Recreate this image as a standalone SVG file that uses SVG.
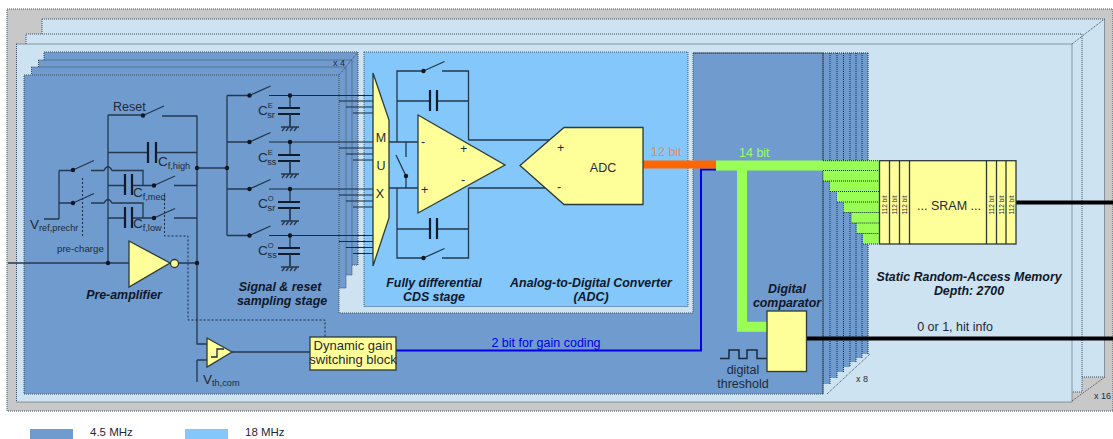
<svg xmlns="http://www.w3.org/2000/svg" width="1113" height="439" viewBox="0 0 1113 439">
<defs>
<style>
text{font-family:"Liberation Sans",Arial,sans-serif;fill:#1f2a38;font-size:12.5px}
.b{font-weight:bold;font-style:italic;text-anchor:middle;font-size:12.400px;fill:#10182a}
.m{text-anchor:middle}
.sub{font-size:9.200px}
.sup{font-size:7.500px}
.c{font-size:13.500px}
.d{stroke:#3d4c5e;stroke-width:1;stroke-dasharray:1 1}
.pale{fill:#cde3f2}
.mid{fill:#6f9bce}
.w{fill:none;stroke:#24384d;stroke-width:1.300}
.p{fill:none;stroke:#101c2c;stroke-width:2.200}
.y{fill:#ffff99;stroke:#2c3a3a;stroke-width:1.300}
.dot{fill:#0d1725}
.tiny{font-size:6.500px}
.wire{fill:none;stroke:#1a2a3c;stroke-width:1}
.dash{fill:none;stroke:#1a2a3c;stroke-width:1;stroke-dasharray:2 2}
.edge{fill:none;stroke:#16263a;stroke-width:1;stroke-dasharray:1 1}
</style>
<g id="gnd"><path class="w" d="M0 0V13M-9 13H9M-8 17L-5 13M-4 17L-1 13M0 17L3 13M4 17L7 13"/></g>
<path id="blade" class="w" d="M0 0L21 -9.500"/>
</defs>

<g id="frames">
<rect x="7" y="9" width="1106" height="402" fill="#c8c8c8" class="d"/>
<path class="pale d" d="M42 19H1104.500V377H1060V100H42Z"/>
<path class="pale d" d="M26 34H1082V392H1060V100H26Z"/>
<rect class="pale d" x="16.500" y="44" width="1055.500" height="358"/>
<path class="d" fill="none" d="M1072 44L1104.500 19M1072 401L1105 377"/>
</g>

<g id="stack-x4">
<rect class="mid d" x="44" y="52" width="314" height="213"/>
<rect class="mid d" x="38.500" y="60" width="313.500" height="215"/>
<rect class="mid d" x="31.500" y="67" width="314.500" height="221"/>
<path class="d" fill="none" d="M339 75L358 52"/>
</g>
<g id="stack-x8">
<rect class="mid" x="693" y="53" width="175" height="301"/>
<rect class="mid" x="693" y="53" width="169" height="305"/>
<rect class="mid" x="693" y="53" width="163" height="309"/>
<rect class="mid" x="693" y="53" width="157" height="314"/>
<rect class="mid" x="693" y="53" width="150.500" height="319"/>
<rect class="mid" x="693" y="53" width="144" height="325"/>
<rect class="mid" x="693" y="53" width="137" height="331"/>
<path class="d" fill="none" d="M827 394L870 354"/>
</g>
<path id="main-block" class="mid d" d="M24 75H339V313H693V53H823V394H24Z"/>
<rect id="adc-block" x="364" y="52" width="324" height="254.500" fill="#83c7fb" stroke="#3a5570" stroke-width="1" stroke-dasharray="1 1"/>

<g id="connectors">
<path class="w" d="M108 115H143M162 116H197V263M108 115V263M108 152.500H148M156 152.500H197"/>
<path class="w" d="M197 168H227M227 95.500V235.500M227 95.500H249.500M227 142H249.500M227 189H249.500M227 235.500H249.500"/>
<path class="w" d="M59 170.500V219M44 219H59M59 170.500H73M59 203H73M91 170.500H104Q108 163 112 170.500H143V185.500M91 203H104Q108 196 112 203H143V218M108 185.500H125M132 185.500H154M108 218H125M132 218H154M174 185.500H197M174 218H197"/>
<path class="w" d="M8 263H129M179 263H197V344H207M197 360H207M197 360V382M232 352H310"/>
<path class="dash" d="M82.500 178V238M164.500 195V236H188V320H325V337"/>
<path class="wire" d="M269 95.500H373M339 101H373M346 107H373M353 113H373M269 142H373M339 148H373M346 154H373M353 160H373M269 189H373M339 195H373M346 201H373M353 207H373M269 235.500H373M339 241.500H373M346 247.500H373M353 253.500H373"/>
<path class="w" d="M290 95.500V108M290 114V127M290 142V155M290 161V174M290 189V202M290 208V220M290 235.500V248M290 254V266"/>
<path class="w" d="M389 142H418M389 188H418M397 142V71H423.500M442 71H468.500V140M397 101H430M437 101H468.500M397 188V258H423.500M442 258H468.500V188M397 229H430M437 229H468.500M406 142V157M406 176V188M406 176L396 155"/>
<path class="w" d="M468.500 140H549M468.500 188H549"/>
<path class="edge" d="M823 53V394M830 53V384M837 53V378M843.500 53V372M850 53V367M856 53V362M862 53V358M868 53V354M693 53H868"/>
<path fill="none" stroke="#0000e6" stroke-width="2" d="M716 169.500H701V350.500H396"/>
<path fill="none" stroke="#ff6600" stroke-width="8" d="M643 164.500H716"/>
<path fill="none" stroke="#99ff55" stroke-width="10" d="M716 165.500H879M742 170V326.700H767"/>
<path fill="#99ff55" d="M823.300 170.500H879V181H823.300ZM830 181H879V191.500H830ZM837 191.500H879V202H837ZM843.700 202H879V212.500H843.700ZM851.700 212.500H879V223H851.700ZM856.700 223H879V233.500H856.700ZM863 233.500H879V244H863Z"/>
<path class="edge" d="M823 160.700H879M823 170.500H879M823 181H879M830 191.500H879M837 202H879M843.700 212.500H879M851.700 223H879M856.700 233.500H879M863 244H879"/>
<path fill="none" stroke="#000" stroke-width="4" d="M1016 202.500H1113M807 338.500H1113"/>
<path fill="none" stroke="#1a2a3c" stroke-width="1.500" d="M720 358.500H729V350H739V358.500H747V350H757V358.500H767"/>
</g>

<g id="components">
<g id="sw-reset"><use href="#blade" x="143" y="115.500"/><circle class="dot" cx="143" cy="115.500" r="2.200"/></g>
<g id="sw-pre"><use href="#blade" x="73" y="170"/><circle class="dot" cx="73" cy="170" r="2.200"/><use href="#blade" x="73" y="203"/><circle class="dot" cx="73" cy="203" r="2.200"/></g>
<g id="sw-gain"><use href="#blade" x="154" y="185.500"/><circle class="dot" cx="154" cy="185.500" r="2.200"/><use href="#blade" x="154" y="218"/><circle class="dot" cx="154" cy="218" r="2.200"/></g>
<g id="feedback-caps"><path class="p" d="M148 142V163M156 142V163M125 174V195M132 174V195M125 207V228M132 207V228"/></g>
<g id="junctions"><circle class="dot" cx="197" cy="168" r="2.200"/><circle class="dot" cx="227" cy="168" r="2.200"/><circle class="dot" cx="108" cy="263" r="2.200"/><circle class="dot" cx="197" cy="263" r="2.200"/></g>
<g id="preamp"><polygon class="y" points="129,241 170,263 129,287"/><circle class="y" cx="174.500" cy="263.500" r="4"/></g>
<g id="sampling">
<use href="#blade" x="249.500" y="95.500"/><circle class="dot" cx="249.500" cy="95.500" r="2.200"/><circle class="dot" cx="290" cy="95.500" r="2.200"/>
<use href="#blade" x="249.500" y="142"/><circle class="dot" cx="249.500" cy="142" r="2.200"/><circle class="dot" cx="290" cy="142" r="2.200"/>
<use href="#blade" x="249.500" y="189"/><circle class="dot" cx="249.500" cy="189" r="2.200"/><circle class="dot" cx="290" cy="189" r="2.200"/>
<use href="#blade" x="249.500" y="235.500"/><circle class="dot" cx="249.500" cy="235.500" r="2.200"/><circle class="dot" cx="290" cy="235.500" r="2.200"/>
<path class="p" d="M278 108H300M278 114H300M278 155H300M278 161H300M278 202H300M278 208H300M278 248H300M278 254H300"/>
<use href="#gnd" x="290" y="114"/><use href="#gnd" x="290" y="161"/><use href="#gnd" x="290" y="208"/><use href="#gnd" x="290" y="254"/>
</g>
<g id="mux"><polygon class="y" points="373,73 389,120 389,218 373,266"/><text class="m" x="381" y="142">M</text><text class="m" x="381" y="170">U</text><text class="m" x="380" y="198">X</text></g>
<g id="cds">
<use href="#blade" x="423.500" y="71"/><circle class="dot" cx="423.500" cy="71" r="2.200"/>
<use href="#blade" x="423.500" y="258"/><circle class="dot" cx="423.500" cy="258" r="2.200"/>
<circle class="dot" cx="406" cy="176" r="2.200"/>
<path class="p" d="M430 90V111M437 90V111M430 218V239M437 218V239"/>
<polygon class="y" points="418,115 505,165 418,213"/>
<text x="421" y="146">-</text><text x="421" y="194">+</text><text x="460" y="153">+</text><text x="461" y="184">-</text>
</g>
<g id="adc"><polygon class="y" points="520,165.500 564,127.500 643,127.500 643,204.500 564,204.500"/><text x="557" y="152">+</text><text x="557" y="191">-</text><text class="m" x="603" y="172">ADC</text></g>
<g id="gain-comparator"><polygon class="y" points="207,338 232,352 207,367"/><path fill="none" stroke="#1a2a3c" stroke-width="1.300" d="M211 357H217V349H224"/></g>
<g id="gain-block"><rect class="y" x="310" y="337" width="86" height="33"/><text class="m" x="353" y="350" style="font-size:13px">Dynamic gain</text><text class="m" x="353" y="364" style="font-size:13px">switching block</text></g>
<g id="comparator"><rect class="y" x="767" y="311" width="39.500" height="60.500"/></g>
<g id="sram">
<rect class="y" x="879.500" y="160.700" width="136.500" height="83.300"/>
<path fill="none" stroke="#2c3a3a" stroke-width="1.300" d="M889.500 160.700V244M899.500 160.700V244M909.500 160.700V244M986.500 160.700V244M996.500 160.700V244M1006 160.700V244"/>
<text class="tiny m" transform="translate(887,205) rotate(-90)">112 bit</text>
<text class="tiny m" transform="translate(897,205) rotate(-90)">112 bit</text>
<text class="tiny m" transform="translate(907,205) rotate(-90)">112 bit</text>
<text class="tiny m" transform="translate(994,205) rotate(-90)">112 bit</text>
<text class="tiny m" transform="translate(1004,205) rotate(-90)">112 bit</text>
<text class="tiny m" transform="translate(1013.500,205) rotate(-90)">112 bit</text>
<text class="m" x="949" y="210">... SRAM ...</text>
</g>
</g>

<g id="labels">
<text x="113" y="111">Reset</text>
<text x="158" y="166" class="c">C<tspan class="sub" dy="3">f,high</tspan></text>
<text x="133" y="197" class="c">C<tspan class="sub" dy="3">f,med</tspan></text>
<text x="133" y="228" class="c">C<tspan class="sub" dy="3">f,low</tspan></text>
<text x="30" y="229" class="c">V<tspan class="sub" dy="2">ref,prechr</tspan></text>
<text x="57" y="252" style="font-size:9.700px">pre-charge</text>
<text class="b" x="124" y="299">Pre-amplifier</text>
<text x="258" y="115" class="c">C<tspan class="sup" dy="-7">E</tspan><tspan class="sub" dy="10" dx="-5.500">sr</tspan></text>
<text x="258" y="161.500" class="c">C<tspan class="sup" dy="-7">E</tspan><tspan class="sub" dy="10" dx="-5.500">ss</tspan></text>
<text x="258" y="208" class="c">C<tspan class="sup" dy="-7">O</tspan><tspan class="sub" dy="10" dx="-6">sr</tspan></text>
<text x="258" y="254.500" class="c">C<tspan class="sup" dy="-7">O</tspan><tspan class="sub" dy="10" dx="-6">ss</tspan></text>
<text class="b" x="280" y="291">Signal &amp; reset</text>
<text class="b" x="282" y="305">sampling stage</text>
<text x="203" y="384" class="c">V<tspan class="sub" dy="2">th,com</tspan></text>
<text x="333" y="66" style="font-size:9px">x 4</text>
<text class="b" x="434" y="287">Fully differential</text>
<text class="b" x="434" y="301">CDS stage</text>
<text class="b" x="591" y="287">Analog-to-Digital Converter</text>
<text class="b" x="591" y="301">(ADC)</text>
<text x="651" y="156" style="fill:#ed8a4d">12 bit</text>
<text x="739" y="157" style="fill:#99ff66">14 bit</text>
<text class="m" x="546" y="347" style="fill:#0000e6">2 bit for gain coding</text>
<text class="b" x="787" y="293">Digital</text>
<text class="b" x="787" y="307">comparator</text>
<text class="m" x="743" y="374">digital</text>
<text class="m" x="743" y="388">threshold</text>
<text class="b" x="969" y="281">Static Random-Access Memory</text>
<text class="b" x="969" y="295">Depth: 2700</text>
<text class="m" x="955" y="331">0 or 1, hit info</text>
<text x="856" y="382" style="font-size:9px">x 8</text>
<text x="1094" y="399" style="font-size:9px">x 16</text>
</g>

<g id="legend">
<rect x="30" y="429" width="43" height="10" fill="#6f9bce"/>
<rect x="185" y="429" width="43" height="10" fill="#83c7fb"/>
<text x="90" y="436.300" style="font-size:11.500px">4.5 MHz</text>
<text x="245" y="436.300" style="font-size:11.500px">18 MHz</text>
</g>
</svg>
